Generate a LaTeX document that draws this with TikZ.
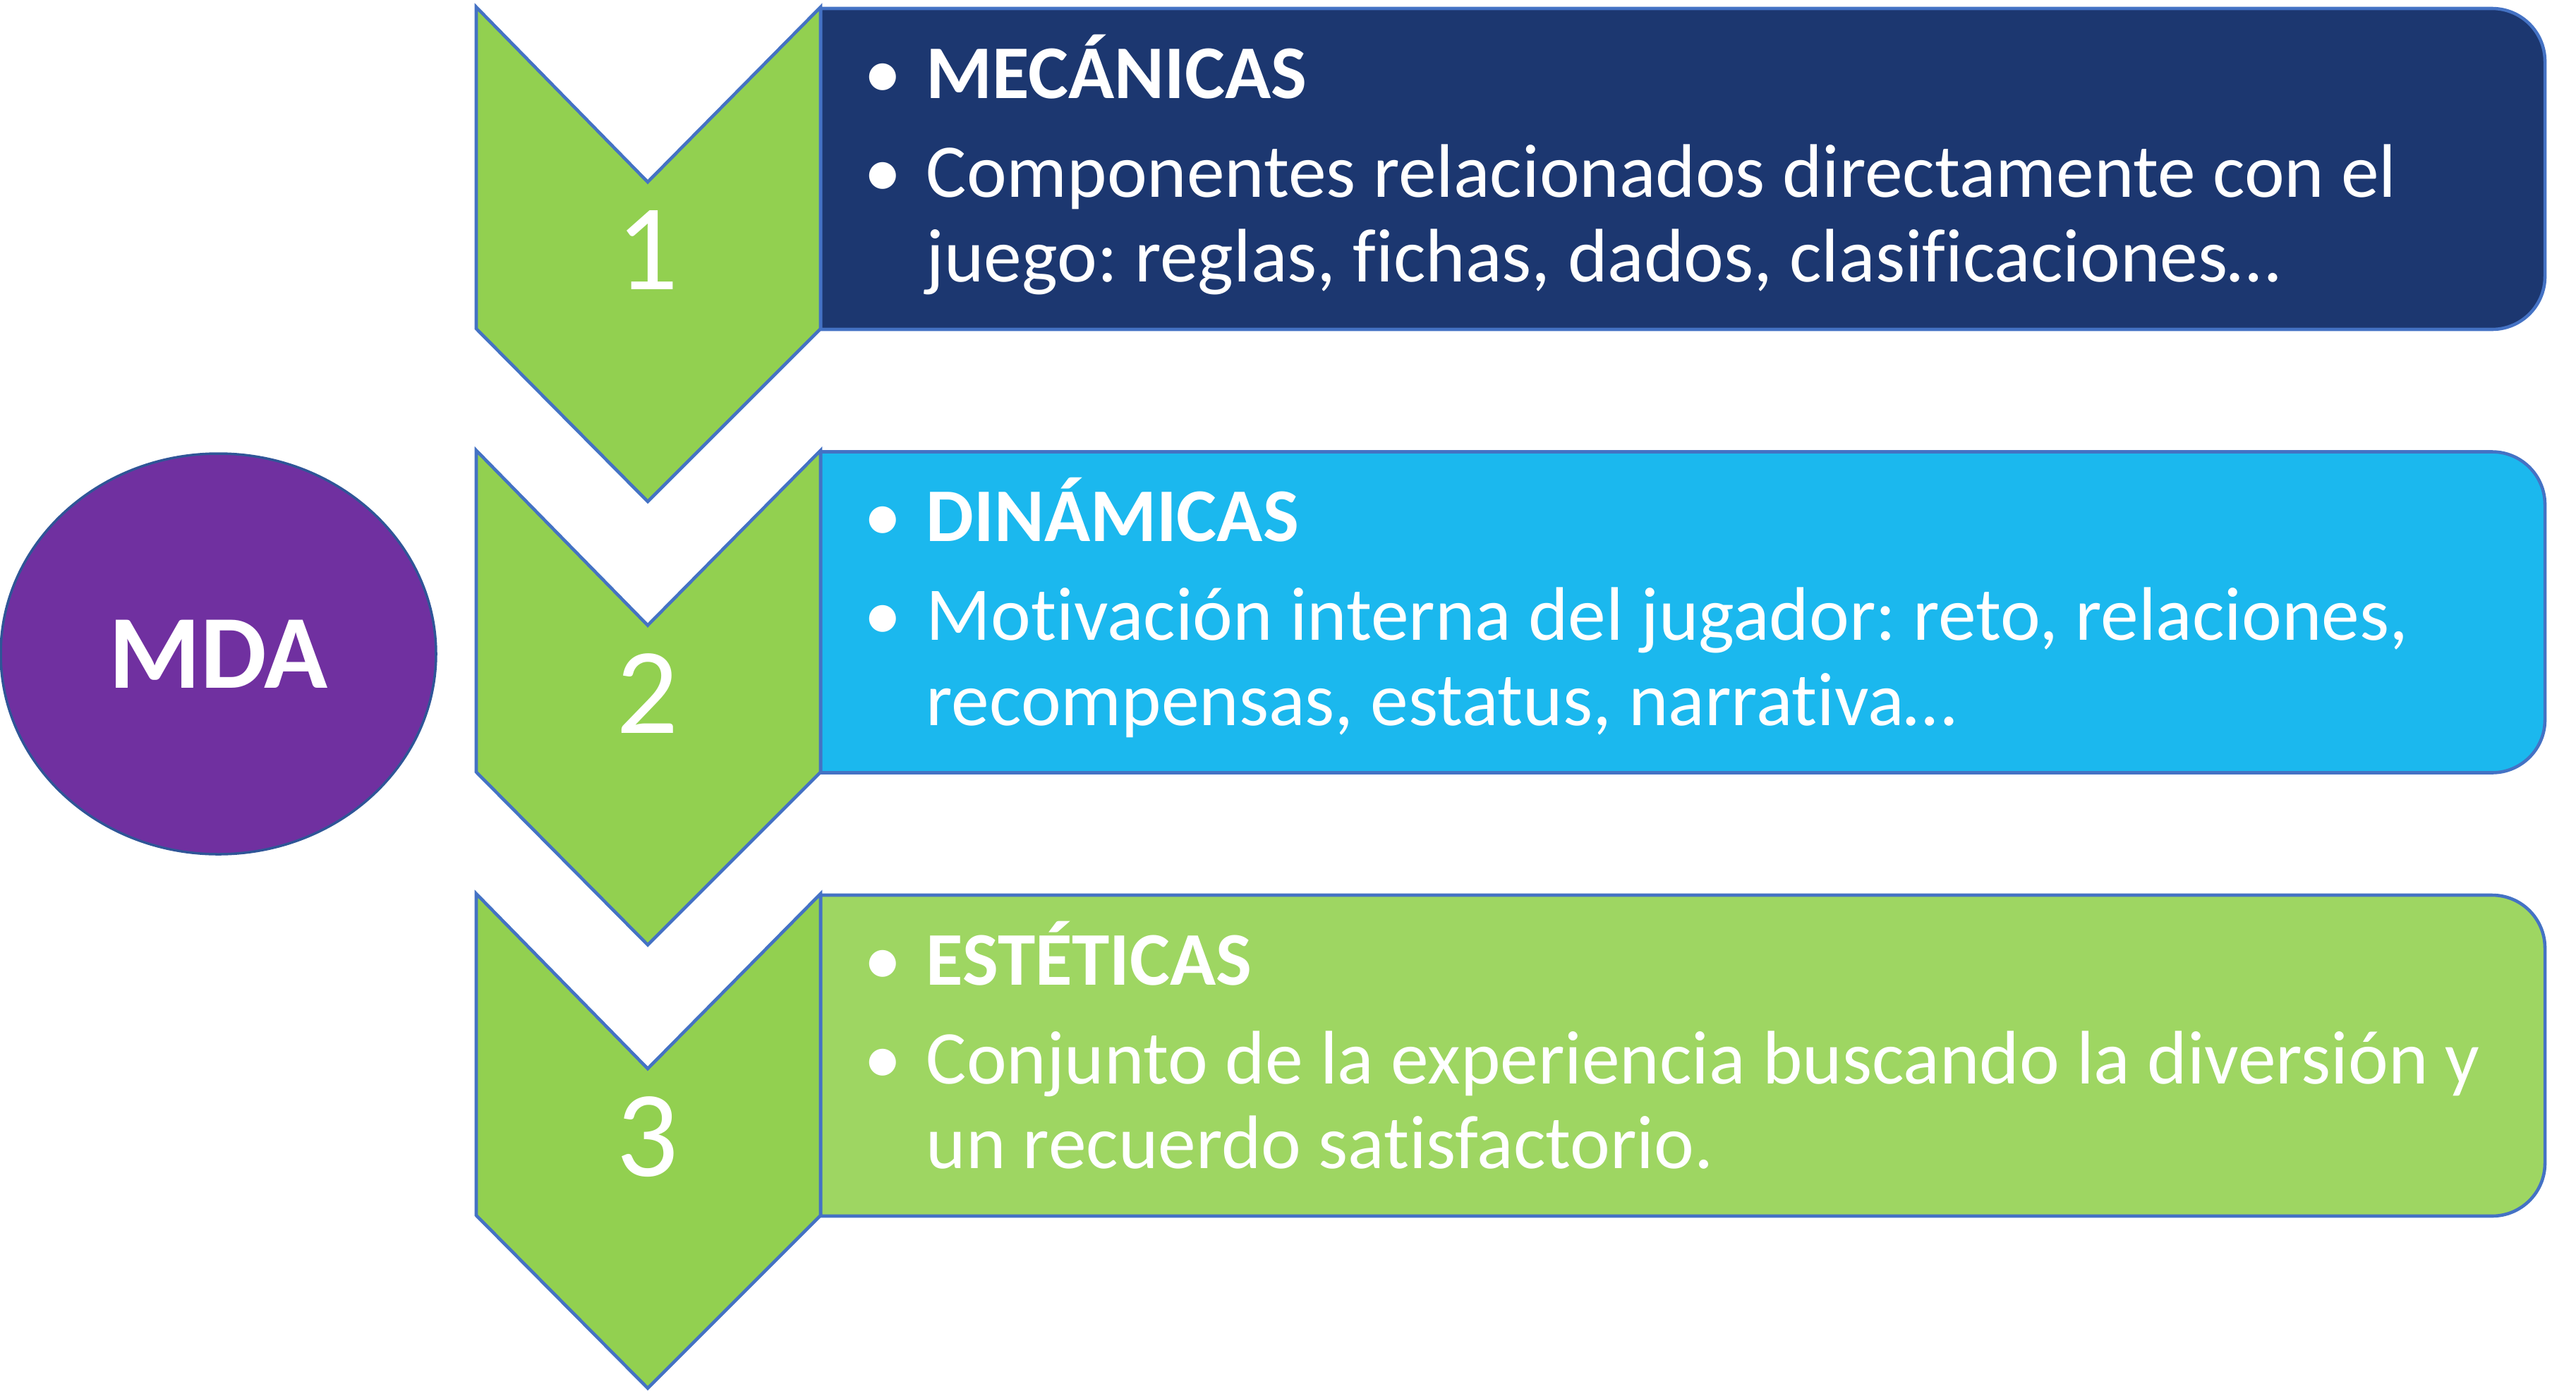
\documentclass[tikz,border=0pt]{standalone}
\usepackage{fontspec}
\setmainfont{Carlito}[Ligatures=NoCommon]
\frenchspacing
\usetikzlibrary{shapes.geometric,positioning}

\definecolor{chevgreen}{HTML}{92D050}
\definecolor{edgeblue}{HTML}{4472C4}
\definecolor{navybox}{HTML}{1C3770}
\definecolor{skybox}{HTML}{1BB8EE}
\definecolor{limebox}{HTML}{9ED662}
\definecolor{mdapurple}{HTML}{7030A0}
\definecolor{mdaedge}{HTML}{2F5597}

\begin{document}
\begin{tikzpicture}[
    chev/.style={fill=chevgreen,draw=edgeblue,line width=1.3pt,line join=miter},
    panel/.style={draw=edgeblue,line width=1.3pt},
    num/.style={text=white,font=\fontsize{49.5}{50}\selectfont,anchor=base,inner sep=0pt},
    head/.style={text=white,font=\fontsize{30.6}{34}\selectfont\bfseries,anchor=base west,inner sep=0pt},
    body/.style={text=white,font=\fontsize{30.6}{34}\selectfont,anchor=base west,inner sep=0pt},
    dot/.style={text=white,font=\fontsize{30.6}{34}\selectfont,anchor=base,inner sep=0pt}]
    \useasboundingbox (0,0) rectangle (36.51,-19.71);

    % MDA
    \node[ellipse,fill=mdapurple,draw=mdaedge,line width=1pt,minimum width=6.17cm,
          minimum height=5.68cm,inner sep=0pt,text=white,font=\fontsize{42.3}{44}\selectfont\bfseries]
          (mda) at (3.095,-9.27) {MDA};

    % 1 - mecanicas
    \filldraw[panel,fill=navybox] (11.63,-0.12) -- (35.32,-0.12) arc[start angle=90,end angle=0,radius=0.75]
        -- (36.07,-3.92) arc[start angle=0,end angle=-90,radius=0.75] -- (11.63,-4.67) -- cycle;
    \filldraw[chev] (6.75,-0.10) -- (9.18,-2.58) -- (11.63,-0.10) -- (11.63,-4.66)
        -- (9.18,-7.11) -- (6.75,-4.66) -- cycle;
    \node[num]  (n1)   at (9.18,-4.105) {1};
    \node[dot]  (d1)   at (12.51,-1.39) {•};
    \node[head] (h1)   at (13.12,-1.39) {MECÁNICAS};
    \node[dot]  (d1a)  at (12.51,-2.79) {•};
    \node[body] (t1a)  at (13.12,-2.79) {Componentes relacionados directamente con el};
    \node[body] (t1b)  [below=1.205cm of t1a.base west,anchor=base west] {juego: reglas, fichas, dados, clasificaciones…};

    % 2 - dinamicas
    \filldraw[panel,fill=skybox] (11.63,-6.405) -- (35.32,-6.405) arc[start angle=90,end angle=0,radius=0.75]
        -- (36.07,-10.205) arc[start angle=0,end angle=-90,radius=0.75] -- (11.63,-10.955) -- cycle;
    \filldraw[chev] (6.75,-6.385) -- (9.18,-8.865) -- (11.63,-6.385) -- (11.63,-10.945)
        -- (9.18,-13.395) -- (6.75,-10.945) -- cycle;
    \node[num]  (n2)   at (9.18,-10.39) {2};
    \node[dot]  (d2)   at (12.51,-7.675) {•};
    \node[head] (h2)   at (13.12,-7.675) {DINÁMICAS};
    \node[dot]  (d2a)  at (12.51,-9.075) {•};
    \node[body] (t2a)  at (13.12,-9.075) {Motivación interna del jugador: reto, relaciones,};
    \node[body] (t2b)  [below=1.205cm of t2a.base west,anchor=base west] {recompensas, estatus, narrativa…};

    % 3 - esteticas
    \filldraw[panel,fill=limebox] (11.63,-12.69) -- (35.32,-12.69) arc[start angle=90,end angle=0,radius=0.75]
        -- (36.07,-16.49) arc[start angle=0,end angle=-90,radius=0.75] -- (11.63,-17.24) -- cycle;
    \filldraw[chev] (6.75,-12.67) -- (9.18,-15.15) -- (11.63,-12.67) -- (11.63,-17.23)
        -- (9.18,-19.68) -- (6.75,-17.23) -- cycle;
    \node[num]  (n3)   at (9.18,-16.675) {3};
    \node[dot]  (d3)   at (12.51,-13.96) {•};
    \node[head] (h3)   at (13.12,-13.96) {ESTÉTICAS};
    \node[dot]  (d3a)  at (12.51,-15.36) {•};
    \node[body] (t3a)  at (13.12,-15.36) {Conjunto de la experiencia buscando la diversión y};
    \node[body] (t3b)  [below=1.205cm of t3a.base west,anchor=base west] {un recuerdo satisfactorio.};
\end{tikzpicture}
\end{document}
